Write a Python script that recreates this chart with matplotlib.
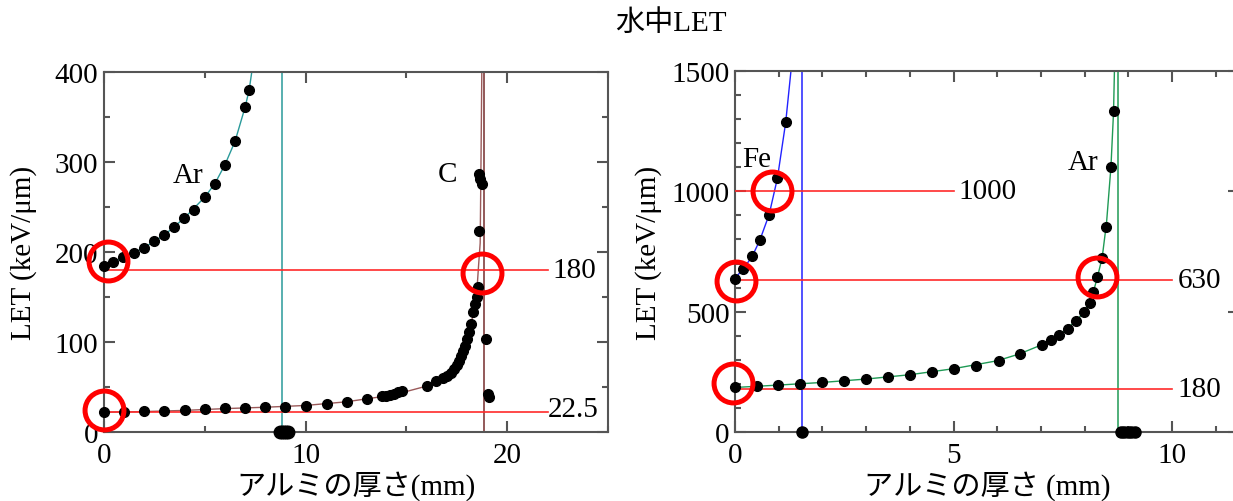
import matplotlib
matplotlib.use("Agg")
import matplotlib.pyplot as plt
from matplotlib.ticker import MultipleLocator

plt.rcParams['font.family'] = ['Liberation Serif', 'Noto Sans CJK JP', 'DejaVu Sans']
plt.rcParams['mathtext.fontset'] = 'stix'

# ---------------- data: left panel ----------------
title = "水中LET"
xlabel_left = "アルミの厚さ(mm)"
xlabel_right = "アルミの厚さ (mm)"
ylabel = "LET (keV/μm)"

ar_l_x = [0.0, 0.46, 0.96, 1.49, 1.99, 2.48, 2.98, 3.47, 3.97, 4.48, 5.01, 5.51, 6.02, 6.5, 7.0, 7.2]
ar_l_y = [184.8, 189, 194, 199, 205, 212.6, 219, 228, 237.8, 246.7, 261.5, 276, 297, 323, 361, 380]
ar_l_curve_x = [0.0, 1.0, 2.0, 3.0, 4.0, 5.0, 5.5, 6.0, 6.5, 7.0, 7.2, 7.33, 7.45]
ar_l_curve_y = [184, 194, 205, 219, 238, 261, 276, 297, 323, 361, 380, 400, 425]
ar_l_stop_x = [8.75, 8.85, 8.95, 9.05, 9.12]
ar_l_stop_y = [0, 0, 0, 0, 0]
ar_l_range = 8.82

c_x = [0.0, 1.0, 2.0, 3.0, 4.0, 5.0, 6.0, 7.0, 8.0, 9.0, 10.0, 11.05, 12.04, 13.04,
       13.8, 14.0, 14.2, 14.4, 14.6, 14.8, 16.0, 16.46, 16.8, 17.0, 17.2, 17.35, 17.5,
       17.6, 17.7, 17.8, 17.9, 18.0, 18.1, 18.2, 18.3, 18.4, 18.48, 18.54, 18.58,
       18.6, 18.66, 18.74, 18.94, 19.04, 19.1]
c_y = [22.6, 22.6, 23.0, 23.7, 24.4, 25.6, 26.3, 26.7, 27.5, 28.1, 29.3, 31.1, 33.7, 36.7,
       39.5, 40.4, 41.5, 42.5, 44, 45.5, 51.5, 57, 60, 62.6, 66, 70, 75,
       79, 84, 90, 96, 103, 111, 120, 133, 142, 150, 160.7, 223.7,
       287, 281, 276, 103, 42, 39]
c_curve_x = [0.0, 2.0, 4.0, 6.0, 8.0, 10.0, 12.0, 14.0, 15.0, 16.0, 17.0, 17.5, 18.0,
             18.3, 18.5, 18.58, 18.66, 18.7, 18.74, 18.76]
c_curve_y = [22, 22.7, 24, 26, 27.5, 29.5, 33.5, 40, 45, 51, 62, 73, 98,
             130, 158, 185, 210, 300, 400, 420]
c_range = 18.83

ref_l_y = [180, 22.5]
ref_l_labels = ["180", "22.5"]
ref_l_end = 22.0
circ_l_x = [0.18, 0.0, 18.77]
circ_l_y = [189.6, 24.8, 176.7]

# ---------------- data: right panel ----------------
fe_x = [0.0, 0.19, 0.40, 0.57, 0.78, 0.97, 1.16]
fe_y = [636, 677, 732, 798, 903, 1054, 1287]
fe_curve_x = [0.0, 0.19, 0.40, 0.57, 0.78, 0.97, 1.16, 1.28, 1.32]
fe_curve_y = [640, 677, 732, 798, 903, 1054, 1287, 1500, 1560]
fe_stop_x = [1.54]
fe_stop_y = [0]
fe_range = 1.54

ar_r_x = [0.0, 0.5, 0.99, 1.49, 1.98, 2.49, 2.99, 3.49, 4.0, 4.51, 5.02, 5.51, 6.03, 6.51,
          7.02, 7.23, 7.41, 7.61, 7.80, 7.98, 8.12, 8.20, 8.28, 8.39, 8.48, 8.60, 8.66]
ar_r_y = [186, 192, 195, 199, 206, 213, 220, 227, 238, 251, 263, 276, 296, 324,
          361, 384, 403, 428, 462, 497, 535, 583, 643, 722, 853, 1102, 1332]
ar_r_curve_x = [0.0, 1.0, 2.0, 3.0, 4.0, 5.0, 6.0, 6.5, 7.0, 7.5, 7.8, 8.0, 8.2, 8.3,
                8.4, 8.5, 8.6, 8.66, 8.68, 8.70]
ar_r_curve_y = [185, 195, 206, 220, 238, 263, 296, 324, 361, 415, 462, 500, 583, 650,
                725, 870, 1100, 1330, 1500, 1560]
ar_r_stop_x = [8.82, 8.9, 8.98, 9.06, 9.15]
ar_r_stop_y = [0, 0, 0, 0, 0]
ar_r_range = 8.77

ref_r_y = [1000, 630, 180]
ref_r_labels = ["1000", "630", "180"]
ref_r_end = [5.0, 10.0, 10.0]
circ_r_x = [0.84, 0.02, -0.05, 8.28]
circ_r_y = [1000, 626, 203.5, 642]

# ---------------- figure ----------------
W, H = 1233, 502
fig = plt.figure(figsize=(W / 100, H / 100), dpi=100)
fs = 21
spine_c = '#555555'

def px_axes(l, r, b, t):
    return [l / W, (H - b) / H, (r - l) / W, (b - t) / H]

axL = fig.add_axes(px_axes(104, 608, 433, 73))
axR = fig.add_axes(px_axes(735, 1239, 433, 72))

red = '#ff2a2a'
circ_red = '#ff0000'
teal = '#2a9a9a'
brown = '#9a5a5a'
blue = '#2222ff'
green = '#1f9a55'

def style(ax):
    for s in ax.spines.values():
        s.set_color(spine_c)
        s.set_linewidth(1.5)
    ax.tick_params(which='both', direction='in', top=True, right=True,
                   colors=spine_c, labelcolor='black', labelsize=fs)
    ax.tick_params(which='major', length=8, width=1.5)
    ax.tick_params(which='minor', length=4, width=1.5)
    ax.tick_params(axis='x', pad=7)
    ax.tick_params(axis='y', pad=4)

# Left panel
axL.set_xlim(0, 25)
axL.set_ylim(0, 400)
axL.xaxis.set_major_locator(MultipleLocator(10))
axL.xaxis.set_minor_locator(MultipleLocator(5))
axL.yaxis.set_major_locator(MultipleLocator(100))
axL.yaxis.set_minor_locator(MultipleLocator(50))
style(axL)

axL.axvline(ar_l_range, color=teal, lw=1.1, zorder=2)
axL.axvline(c_range, color='#8a4c4c', lw=1.3, zorder=2)
axL.plot(ar_l_curve_x, ar_l_curve_y, color=teal, lw=1.0, zorder=2)
axL.plot(c_curve_x, c_curve_y, color=brown, lw=1.0, zorder=2)
for y in ref_l_y:
    axL.plot([0, ref_l_end], [y, y], color=red, lw=1.2, zorder=3, clip_on=False)
axL.text(ref_l_end + 0.25, ref_l_y[0], ref_l_labels[0], fontsize=fs, va='center', ha='left')
axL.text(ref_l_end, ref_l_y[1] + 3, ref_l_labels[1], fontsize=fs, va='center', ha='left')
axL.plot(ar_l_x, ar_l_y, 'o', color='black', ms=7, zorder=4, clip_on=False)
axL.plot(c_x, c_y, 'o', color='black', ms=7, zorder=4, clip_on=False)
axL.plot(ar_l_stop_x, ar_l_stop_y, 'o', color='black', ms=9, zorder=4, clip_on=False)
axL.plot(circ_l_x, circ_l_y, 'o', ms=28, mfc='none', mec=circ_red, mew=3.6, zorder=5, clip_on=False)
axL.text(4.17, 286, "Ar", fontsize=fs, ha='center', va='center')
axL.text(17.05, 287, "C", fontsize=fs, ha='center', va='center')
axL.set_xlabel(xlabel_left, fontsize=fs)
axL.set_ylabel(ylabel, fontsize=fs)
axL.xaxis.set_label_coords(0.5, -0.105)
axL.yaxis.set_label_coords(-0.133, 0.5)

# Right panel
axR.set_xlim(0, 11.53)
axR.set_ylim(0, 1500)
axR.xaxis.set_major_locator(MultipleLocator(5))
axR.xaxis.set_minor_locator(MultipleLocator(1))
axR.yaxis.set_major_locator(MultipleLocator(500))
axR.yaxis.set_minor_locator(MultipleLocator(100))
style(axR)

axR.axvline(fe_range, color=blue, lw=1.1, zorder=2)
axR.axvline(ar_r_range, color=green, lw=1.1, zorder=2)
axR.plot(fe_curve_x, fe_curve_y, color=blue, lw=1.0, zorder=2)
axR.plot(ar_r_curve_x, ar_r_curve_y, color=green, lw=1.0, zorder=2)
for y, xe, lab in zip(ref_r_y, ref_r_end, ref_r_labels):
    axR.plot([0, xe], [y, y], color=red, lw=1.2, zorder=3)
    axR.text(xe + 0.12, y, lab, fontsize=fs, va='center', ha='left')
axR.plot(fe_x, fe_y, 'o', color='black', ms=7, zorder=4, clip_on=False)
axR.plot(ar_r_x, ar_r_y, 'o', color='black', ms=7, zorder=4, clip_on=False)
axR.plot(fe_stop_x, fe_stop_y, 'o', color='black', ms=8, zorder=4, clip_on=False)
axR.plot(ar_r_stop_x, ar_r_stop_y, 'o', color='black', ms=8, zorder=4, clip_on=False)
axR.plot(circ_r_x, circ_r_y, 'o', ms=28, mfc='none', mec=circ_red, mew=3.6, zorder=5, clip_on=False)
axR.text(0.5, 1134, "Fe", fontsize=fs, ha='center', va='center')
axR.text(7.97, 1120, "Ar", fontsize=fs, ha='center', va='center')
axR.set_xlabel(xlabel_right, fontsize=fs)
axR.set_ylabel(ylabel, fontsize=fs)
axR.xaxis.set_label_coords(0.5, -0.105)
axR.yaxis.set_label_coords(-0.145, 0.5)

fig.text(671 / W, 1 - 24 / H, title, fontsize=fs, ha='center', va='center')

fig.savefig("out.png", dpi=100)
